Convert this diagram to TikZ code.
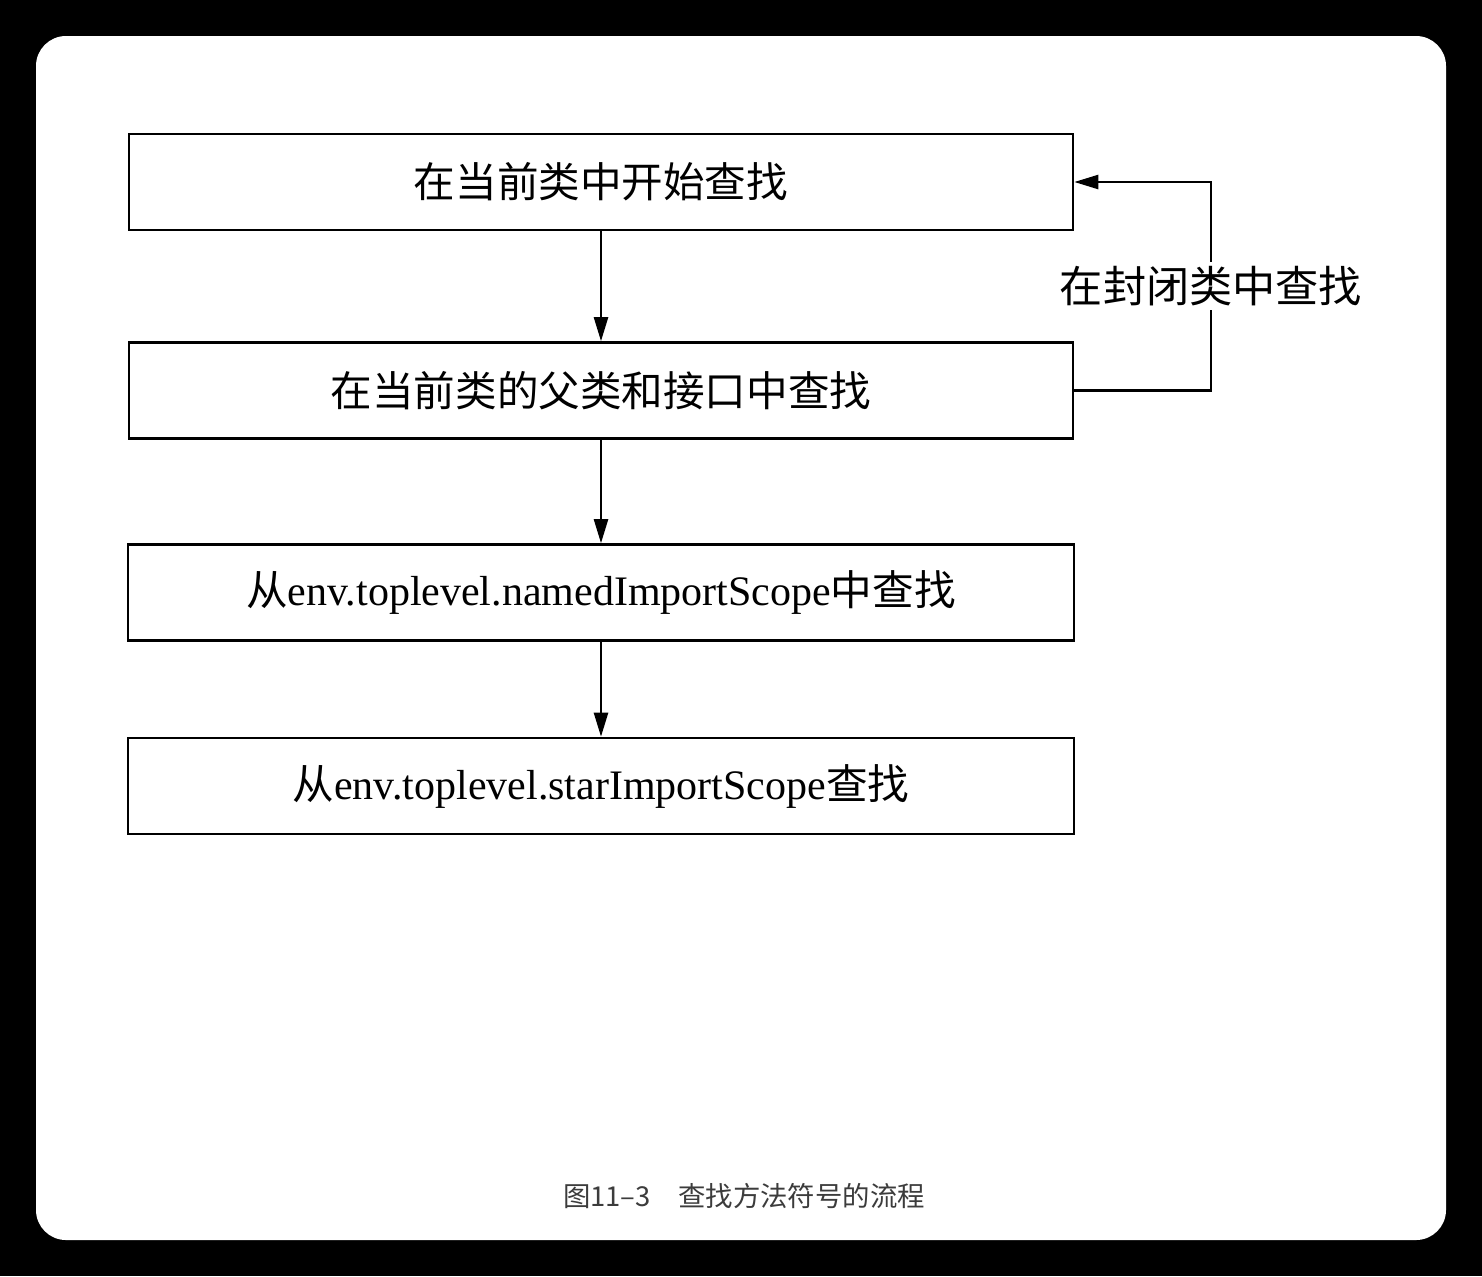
\documentclass[tikz,border=0pt]{standalone}
\usepackage{fontspec}
\setmainfont{Liberation Serif}
\newfontfamily\cjk{Noto Sans CJK SC}[Scale=0.99]
\newfontfamily\capfont{Noto Sans CJK SC}
\usetikzlibrary{arrows.meta}
\definecolor{capgray}{RGB}{60,60,60}
\begin{document}
\begin{tikzpicture}[x=0.5pt,y=-0.5pt,
  stepbox/.style={draw=black,line width=1.3pt,minimum width=472pt,minimum height=48pt,inner sep=0pt,font=\fontsize{21pt}{25pt}\selectfont},
  conn/.style={draw=black,line width=1.2pt,-{Triangle[length=12pt,width=7pt]}},
  lbl/.style={fill=white,inner sep=2pt,font=\fontsize{21.8pt}{25pt}\selectfont\cjk}]
\fill[black] (0,0) rectangle (1482,1276);
\fill[white,rounded corners=15pt] (36,36) rectangle (1446,1240);
\useasboundingbox (0,0) rectangle (1482,1276);
\node[stepbox] (b1) at (601,182) {\cjk 在当前类中开始查找};
\node[stepbox] (b2) at (601,390.5) {\cjk 在当前类的父类和接口中查找};
\node[stepbox,minimum width=473pt] (b3) at (601,592.5) {{\cjk 从}env.toplevel.namedImportScope{\cjk 中查找}};
\node[stepbox,minimum width=473pt] (b4) at (601,786) {{\cjk 从}env.toplevel.starImportScope{\cjk 查找}};
\draw[conn] (b1) -- (b2);
\draw[conn] (b2) -- (b3);
\draw[conn] (b3) -- (b4);
\coordinate (c1) at (1211,390.5);
\coordinate (c2) at (1211,182);
\draw[conn] (b2.east) -- (c1) -- node[lbl] (l) {在封闭类中查找} (c2) -- (b1.east);
\node[font=\fontsize{13.7pt}{16pt}\selectfont\capfont,text=capgray] (cap) at (744,1196) {图11–3\hspace{1em}查找方法符号的流程};
\end{tikzpicture}
\end{document}
